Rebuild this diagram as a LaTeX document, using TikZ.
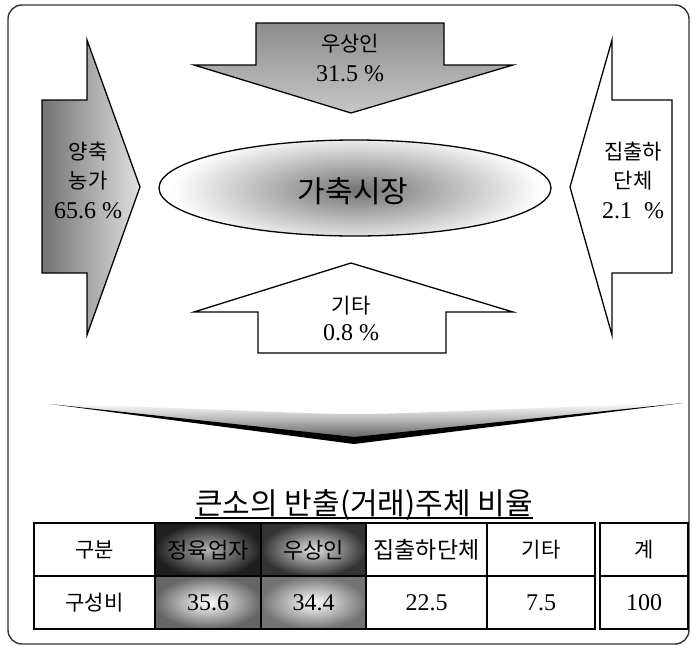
\documentclass[tikz,border=0pt]{standalone}
\usepackage{fontspec}
\setmainfont{Liberation Serif}
\newfontfamily\krfont{Noto Sans CJK KR}
\begin{document}
\begin{tikzpicture}[x=1pt,y=-1pt,
  kr/.style={font=\krfont\fontsize{21}{24}\selectfont, inner sep=0pt},
  krbig/.style={font=\krfont\fontsize{30}{32}\selectfont, inner sep=0pt},
  num/.style={font=\fontsize{24}{26}\selectfont, inner sep=0pt},
  arrowline/.style={draw=black, line width=1.3pt, line join=miter},
  tline/.style={draw=black, line width=1.6pt},
  frameline/.style={draw=black!80, line width=1.4pt, rounded corners=14pt}]
\useasboundingbox (0,0) rectangle (693,648);
\path[fill=white] (0,0) rectangle (693,648);
% frame
\draw[frameline] (8,5) rectangle (689,644);

% top arrow (down)
\draw[arrowline, top color=black!45, bottom color=black!22]
  (256,23) -- (444,23) -- (444,65) -- (513,65) -- (351,113) -- (194,65) -- (256,65) -- cycle;
\node[kr] (t1) at (350,44) {우상인};
\node[num] (t2) at (350,74) {31.5 \%};

% left arrow (right)
\draw[arrowline, left color=black!55, right color=black!12]
  (42,100) -- (87,100) -- (87,40) -- (140,187) -- (87,335) -- (87,273) -- (42,273) -- cycle;
\node[kr] (l1) at (88,152) {양축};
\node[kr] (l2) at (88,181) {농가};
\node[num] (l3) at (88,211) {65.6 \%};

% right arrow (left)
\draw[arrowline, fill=white]
  (570,187) -- (612,40) -- (612,100) -- (672,100) -- (672,273) -- (612,273) -- (612,335) -- cycle;
\node[kr] (r1) at (633,152) {집출하};
\node[kr] (r2) at (633,181) {단체};
\node[num] (r3) at (633,211) {2.1\ \ \%};

% bottom arrow (up)
\draw[arrowline, fill=white]
  (351,263) -- (513,312) -- (446,312) -- (446,353) -- (258,353) -- (258,312) -- (194,312) -- cycle;
\node[kr] (b1) at (351,306) {기타};
\node[num] (b2) at (351,333) {0.8 \%};

% ellipse
\begin{scope}
  \clip (355,188) ellipse (196 and 48);
  \shade[inner color=black!55, outer color=white] (357,190) ellipse (185 and 58);
\end{scope}
\draw[arrowline] (355,188) ellipse (196 and 48);
\node[krbig] (mkt) at (353,191) {가축시장};

% chevron
\shade[top color=white, bottom color=black!70]
  (50,404) .. controls (200,408) and (300,414) .. (354,414)
  .. controls (410,414) and (520,408) .. (683,403) -- (354,443) -- cycle;
\fill[black] (50,404) -- (354,444) -- (354,437) -- cycle;
\fill[black] (683,403) -- (354,444) -- (354,437) -- cycle;

% title
\node[kr, font=\krfont\fontsize{30}{32}\selectfont, anchor=base] (title) at (364,514) {큰소의 반출(거래)주체 비율};
\draw[line width=1.2pt] ([yshift=-4pt]title.base west) -- ([yshift=-4pt]title.base east);

% table shading
\shade[inner color=black!30, outer color=black!88] (155,523) rectangle (261,576);
\shade[inner color=black!12, outer color=black!80] (261,523) rectangle (366,576);
\shade[inner color=white, outer color=black!60] (155,576) rectangle (261,629);
\shade[inner color=white, outer color=black!55] (261,576) rectangle (366,629);

% table grid
\draw[tline] (34,523) rectangle (595,629);
\draw[tline] (34,576) -- (595,576);
\foreach \cx in {155,261,366,487} { \draw[tline] (\cx,523) -- (\cx,629); }
\draw[tline] (600,523) rectangle (688,629);
\draw[tline] (600,576) -- (688,576);

% table texts
\node[kr] (h1) at (94.5,550) {구분};
\node[kr, font=\krfont\fontsize{22}{24}\selectfont] (h2) at (208,550) {정육업자};
\node[kr, font=\krfont\fontsize{22}{24}\selectfont] (h3) at (313.5,550) {우상인};
\node[kr, font=\krfont\fontsize{23}{24}\selectfont] (h4) at (426.5,550) {집출하단체};
\node[kr] (h5) at (541,550) {기타};
\node[kr] (h6) at (644,550) {계};
\node[kr] (v1) at (94.5,603) {구성비};
\node[num] (v2) at (208,603) {35.6};
\node[num] (v3) at (313.5,603) {34.4};
\node[num] (v4) at (426.5,603) {22.5};
\node[num] (v5) at (541,603) {7.5};
\node[num] (v6) at (644,603) {100};
\end{tikzpicture}
\end{document}
